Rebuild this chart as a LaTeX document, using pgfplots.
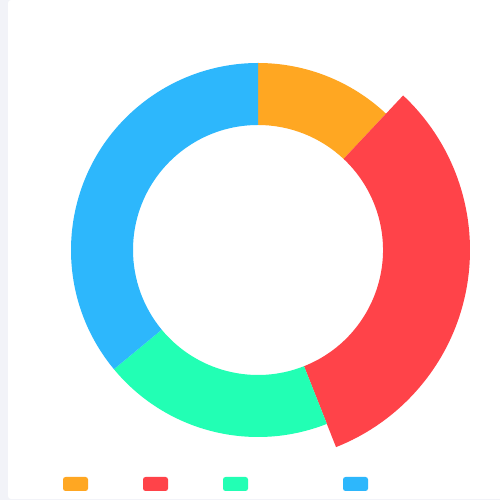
\documentclass[border=0pt]{standalone}
\usepackage{pgfplots}
\usepackage{pgfplotstable}
\pgfplotsset{compat=1.18}
\definecolor{cA}{HTML}{FFA722}
\definecolor{cB}{HTML}{FF4349}
\definecolor{cC}{HTML}{22FFB4}
\definecolor{cD}{HTML}{2DB7FC}
\definecolor{bgstrip}{HTML}{F2F3F8}
\pgfplotstableread{
name value rout
A 12 187
B 32 212
C 20 187
D 36 187
}\donutdata
\newcommand\getval[2]{\pgfplotstablegetelem{#1}{value}\of\donutdata\global\let#2\pgfplotsretval}
\newcommand\getr[2]{\pgfplotstablegetelem{#1}{rout}\of\donutdata\global\let#2\pgfplotsretval}
\getval{0}{\vA}\getval{1}{\vB}\getval{2}{\vC}\getval{3}{\vD}
\getr{0}{\rA}\getr{1}{\rB}\getr{2}{\rC}\getr{3}{\rD}
\pgfmathsetmacro{\aA}{90}
\pgfmathsetmacro{\aB}{\aA-3.6*\vA}
\pgfmathsetmacro{\aC}{\aB-3.6*\vB}
\pgfmathsetmacro{\aD}{\aC-3.6*\vC}
\pgfmathsetmacro{\aE}{\aD-3.6*\vD}
\newcommand\sector[5]{% color, a1, a2, rin, rout
  \fill[#1] ([shift={(#2:#5pt)}]axis cs:258,250) arc[start angle=#2,end angle=#3,radius=#5pt]
    -- ([shift={(#3:#4pt)}]axis cs:258,250) arc[start angle=#3,end angle=#2,radius=#4pt] -- cycle;}
\begin{document}
\begin{tikzpicture}
\useasboundingbox (0,0) rectangle (500pt,500pt);
\fill[bgstrip] (0,0) rectangle (500pt,500pt);
\begin{scope}
\clip (0,0) rectangle (500pt,500pt);
\fill[white,rounded corners=3pt] (8pt,1pt) rectangle (510pt,500pt);
\end{scope}
\begin{axis}[at={(0,0)},anchor=origin,scale only axis,width=500pt,height=500pt,
  xmin=0,xmax=500,ymin=0,ymax=500,hide axis,clip=false]
\addplot[draw=none,mark=none] coordinates {(258,250)};
\sector{cA}{\aA}{\aB}{125}{\rA}
\sector{cB}{\aB}{\aC}{125}{\rB}
\sector{cC}{\aC}{\aD}{125}{\rC}
\sector{cD}{\aD}{\aE}{125}{\rD}
\fill[cA,rounded corners=2.5pt] (axis cs:63,9) rectangle (axis cs:88,23);
\fill[cB,rounded corners=2.5pt] (axis cs:143,9) rectangle (axis cs:168,23);
\fill[cC,rounded corners=2.5pt] (axis cs:223,9) rectangle (axis cs:248,23);
\fill[cD,rounded corners=2.5pt] (axis cs:343,9) rectangle (axis cs:368,23);
\end{axis}
\end{tikzpicture}
\end{document}
